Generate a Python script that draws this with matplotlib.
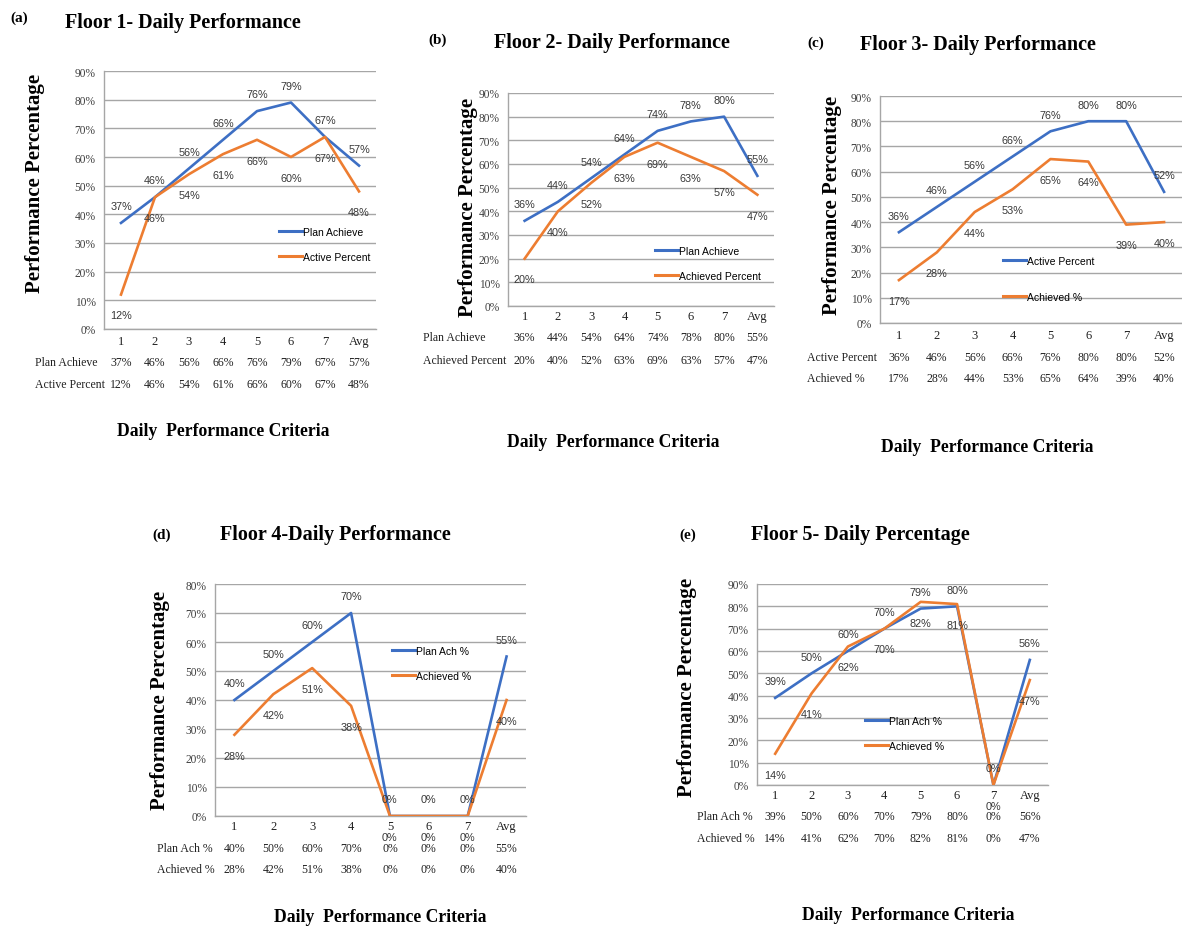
#!/usr/bin/env python
"""Five panels of floor-wise daily performance (plan vs achieved)."""

import matplotlib
matplotlib.use("Agg")
import matplotlib.pyplot as plt
from matplotlib.lines import Line2D

W, H = 1182, 928

CATEGORIES = ["1", "2", "3", "4", "5", "6", "7", "Avg"]

# Floor 1
F1_PLAN = [37, 46, 56, 66, 76, 79, 67, 57]
F1_ACH = [12, 46, 54, 61, 66, 60, 67, 48]
F1_NAMES = ["Plan Achieve", "Active Percent"]

# Floor 2
F2_PLAN = [36, 44, 54, 64, 74, 78, 80, 55]
F2_ACH = [20, 40, 52, 63, 69, 63, 57, 47]
F2_NAMES = ["Plan Achieve", "Achieved Percent"]

# Floor 3
F3_PLAN = [36, 46, 56, 66, 76, 80, 80, 52]
F3_ACH = [17, 28, 44, 53, 65, 64, 39, 40]
F3_NAMES = ["Active Percent", "Achieved %"]

# Floor 4
F4_PLAN = [40, 50, 60, 70, 0, 0, 0, 55]
F4_ACH = [28, 42, 51, 38, 0, 0, 0, 40]
F4_NAMES = ["Plan Ach %", "Achieved %"]

# Floor 5
F5_PLAN = [39, 50, 60, 70, 79, 80, 0, 56]
F5_ACH = [14, 41, 62, 70, 82, 81, 0, 47]
F5_NAMES = ["Plan Ach %", "Achieved %"]

BLUE = "#3d6fc4"
ORANGE = "#ed7d31"
GRID = "#a6a6a6"
SERIF = "Liberation Serif"
SANS = "Liberation Sans"

# layout in pixels
PANELS = [
    dict(tag="(a)", title="Floor 1- Daily Performance", plan=F1_PLAN, ach=F1_ACH,
         names=F1_NAMES, ymax=90, box=(104, 376, 72, 330),
         tag_xy=(10, 18), title_xy=(183, 23), ylab_xy=(35, 183), xlab_xy=(223, 432),
         row_x=35, row_y=(342, 363, 385), leg=(279, 232, 259)),
    dict(tag="(b)", title="Floor 2- Daily Performance", plan=F2_PLAN, ach=F2_ACH,
         names=F2_NAMES, ymax=90, box=(508, 774, 94, 307),
         tag_xy=(428, 40), title_xy=(612, 43), ylab_xy=(468, 207), xlab_xy=(613, 443),
         row_x=423, row_y=(317, 338, 361), leg=(655, 251, 278)),
    dict(tag="(c)", title="Floor 3- Daily Performance", plan=F3_PLAN, ach=F3_ACH,
         names=F3_NAMES, ymax=90, box=(880, 1183, 97, 324),
         tag_xy=(807, 43), title_xy=(978, 45), ylab_xy=(832, 205), xlab_xy=(987, 448),
         row_x=807, row_y=(336, 358, 379), leg=(1003, 261, 299)),
    dict(tag="(d)", title="Floor 4-Daily Performance", plan=F4_PLAN, ach=F4_ACH,
         names=F4_NAMES, ymax=80, box=(215, 526, 585, 817),
         tag_xy=(152, 535), title_xy=(335, 535), ylab_xy=(160, 700), xlab_xy=(380, 918),
         row_x=157, row_y=(827, 849, 870), leg=(392, 651, 678)),
    dict(tag="(e)", title="Floor 5- Daily Percentage", plan=F5_PLAN, ach=F5_ACH,
         names=F5_NAMES, ymax=90, box=(757, 1048, 585, 786),
         tag_xy=(679, 535), title_xy=(860, 535), ylab_xy=(687, 687), xlab_xy=(908, 916),
         row_x=697, row_y=(796, 817, 839), leg=(865, 721, 748)),
]


def fx(x):
    return x / W


def fy(y):
    return 1 - y / H


def draw_panel(fig, p):
    left, right, top, bottom = p["box"]
    ax = fig.add_axes([fx(left), fy(bottom), (right - left) / W, (bottom - top) / H])
    x = list(range(len(CATEGORIES)))
    plan = [v / 100 for v in p["plan"]]
    ach = [v / 100 for v in p["ach"]]

    ax.plot(x, plan, color=BLUE, lw=1.9, solid_joinstyle="round", zorder=3)
    ax.plot(x, ach, color=ORANGE, lw=1.9, solid_joinstyle="round", zorder=3)

    # data labels: plan above, achieved below
    for xi, v in zip(x, p["plan"]):
        ax.annotate(f"{v}%", (xi, v / 100), xytext=(0, 12), textcoords="offset points",
                    ha="center", va="center", fontsize=7.8, family=SANS, color="#383838")
    for xi, v in zip(x, p["ach"]):
        ax.annotate(f"{v}%", (xi, v / 100), xytext=(0, -15), textcoords="offset points",
                    ha="center", va="center", fontsize=7.8, family=SANS, color="#383838")

    ymax = p["ymax"] / 100
    ax.set_xlim(-0.5, len(CATEGORIES) - 0.5)
    ax.set_ylim(0, ymax)
    yt = [i / 10 for i in range(0, p["ymax"] // 10 + 1)]
    ax.set_yticks(yt, [f"{round(t * 100)}%" for t in yt])
    ax.set_xticks([])
    ax.tick_params(axis="y", length=0, pad=6, labelsize=8.3, labelcolor="#404040")
    for lab in ax.get_yticklabels():
        lab.set_family(SERIF)
    ax.grid(axis="y", color=GRID, lw=1)
    ax.set_axisbelow(True)
    for side in ["top", "right"]:
        ax.spines[side].set_visible(False)
    for side in ["left", "bottom"]:
        ax.spines[side].set_color(GRID)
        ax.spines[side].set_linewidth(1)

    # category row and data table below the plot
    trans = ax.get_xaxis_transform()

    def ay(py):
        return (bottom - py) / (bottom - top)

    rows = [("", CATEGORIES),
            (p["names"][0], [f"{v}%" for v in p["plan"]]),
            (p["names"][1], [f"{v}%" for v in p["ach"]])]
    for (name, vals), py in zip(rows, p["row_y"]):
        size = 9 if not name else 8.5
        for xi, s in zip(x, vals):
            ax.text(xi, ay(py), s, transform=trans, ha="center", va="center",
                    fontsize=size, family=SERIF, color="#202020", clip_on=False)
        if name:
            fig.text(fx(p["row_x"]), fy(py), name, ha="left", va="center",
                     fontsize=8.5, family=SERIF, color="#202020")

    # legend
    lx, ly1, ly2 = p["leg"]
    fs_px = 7.5 * 100 / 72
    handles = [Line2D([], [], color=BLUE, lw=2.2), Line2D([], [], color=ORANGE, lw=2.2)]
    ax.legend(handles, p["names"], loc="center left",
              bbox_to_anchor=(fx(lx), fy((ly1 + ly2) / 2)), bbox_transform=fig.transFigure,
              frameon=False, borderpad=0, borderaxespad=0, handlelength=2.2,
              handletextpad=0.1, labelspacing=(ly2 - ly1) / fs_px - 1.15,
              prop=dict(family=SANS, size=7.5))

    # titles and axis labels
    fig.text(fx(p["tag_xy"][0]), fy(p["tag_xy"][1]), p["tag"], ha="left", va="center",
             fontsize=11, family=SERIF, weight="bold")
    fig.text(fx(p["title_xy"][0]), fy(p["title_xy"][1]), p["title"], ha="center",
             va="center", fontsize=14.5, family=SERIF, weight="bold")
    fig.text(fx(p["ylab_xy"][0]), fy(p["ylab_xy"][1]), "Performance Percentage",
             ha="center", va="center", rotation=90, fontsize=15, family=SERIF,
             weight="bold")
    fig.text(fx(p["xlab_xy"][0]), fy(p["xlab_xy"][1]), "Daily  Performance Criteria",
             ha="center", va="center", fontsize=12.7, family=SERIF, weight="bold")


def main():
    fig = plt.figure(figsize=(W / 100, H / 100), dpi=100)
    for p in PANELS:
        draw_panel(fig, p)
    fig.savefig("out.png", dpi=100)
    plt.close(fig)


if __name__ == "__main__":
    main()
